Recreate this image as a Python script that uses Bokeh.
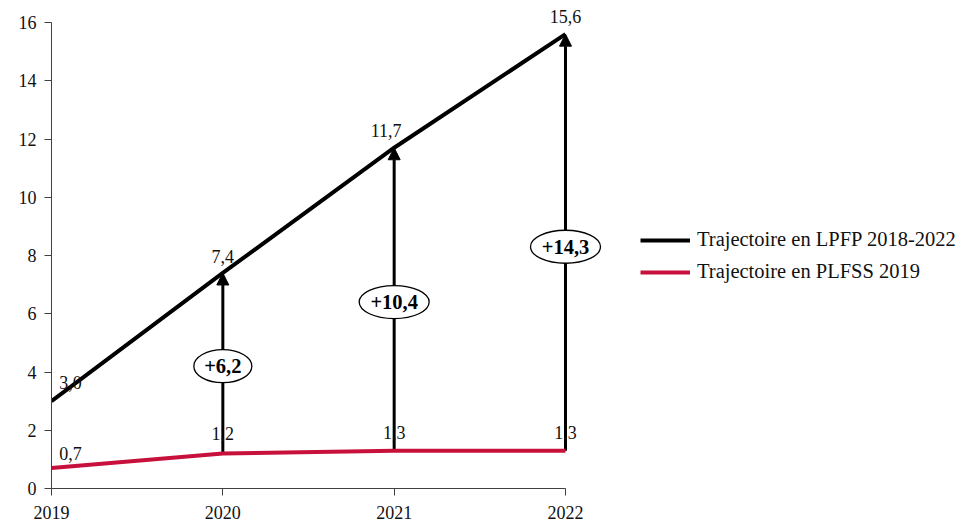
from bokeh.plotting import figure
from bokeh.models import (Range1d, Arrow, NormalHead, Legend, LegendItem,
                          ColumnDataSource, FixedTicker, LabelSet)
from bokeh.embed import file_html
from bokeh.resources import INLINE

# ---- data ----
years = [2019, 2020, 2021, 2022]
lpfp = [3.0, 7.4, 11.7, 15.6]
plfss = [0.7, 1.2, 1.3, 1.3]
lpfp_labels = ["3,0", "7,4", "11,7", "15,6"]
plfss_labels = ["0,7", "1,2", "1,3", "1,3"]
gap_years = [2020, 2021, 2022]
gap_labels = ["+6,2", "+10,4", "+14,3"]
gap_label_y = [4.2, 6.4, 8.3]
y_ticks = [0, 2, 4, 6, 8, 10, 12, 14, 16]

# ---- styles ----
FONT = "Liberation Serif"
BLACK = "#000000"
RED = "#C8103C"
AXIS = "#404040"

px_per_year = (565 - 51) / 3
px_per_unit = (488 - 22) / 16

p = figure(width=966, height=522, output_backend="svg", toolbar_location=None,
           x_range=Range1d(2019, 2019 + (966 - 51) / px_per_year),
           y_range=Range1d(0, 488 / px_per_unit),
           min_border_left=51, min_border_right=0, min_border_top=0,
           min_border_bottom=34)
p.outline_line_color = None
p.xgrid.visible = False
p.ygrid.visible = False
p.background_fill_color = "white"

for ax in (p.xaxis[0], p.yaxis[0]):
    ax.axis_line_color = AXIS
    ax.major_tick_line_color = AXIS
    ax.minor_tick_line_color = None
    ax.major_tick_in = 0
    ax.major_tick_out = 7
    ax.major_label_text_font = FONT
    ax.major_label_text_font_size = "18px"
    ax.major_label_text_color = "#111111"

p.xaxis.bounds = (years[0], years[-1])
p.xaxis.ticker = FixedTicker(ticks=years)
p.xaxis.major_label_overrides = {y: str(y) for y in years}
p.xaxis.major_label_standoff = 10
p.yaxis.bounds = (y_ticks[0], y_ticks[-1])
p.yaxis.ticker = FixedTicker(ticks=y_ticks)
p.yaxis.major_label_standoff = 8

# arrows from PLFSS to LPFP (drawn beneath the ellipses)
arr_src = ColumnDataSource(dict(x=years[1:], ys=plfss[1:], ye=lpfp[1:]))
p.add_layout(Arrow(end=NormalHead(size=12, fill_color=BLACK, line_color=BLACK),
                   x_start="x", y_start="ys", x_end="x", y_end="ye",
                   source=arr_src, line_width=3, line_color=BLACK,
                   level="underlay"))

red = p.line(years, plfss, line_color=RED, line_width=4)
blk = p.line(years, lpfp, line_color=BLACK, line_width=4)

# ellipse labels
gap_src = ColumnDataSource(dict(x=gap_years, y=gap_label_y, t=gap_labels,
                                w=[58, 70, 70]))
p.ellipse(x="x", y="y", width="w", height=33, width_units="screen",
          height_units="screen", fill_color="white", line_color=BLACK,
          line_width=1.3, source=gap_src)
p.add_layout(LabelSet(x="x", y="y", text="t", source=gap_src,
                      text_font=FONT, text_font_size="20.5px",
                      text_font_style="bold", text_align="center",
                      text_baseline="middle", text_color=BLACK))

# value labels
lab_src = ColumnDataSource(dict(
    x=years + years, y=lpfp + plfss, t=lpfp_labels + plfss_labels,
    dx=[19, 0, -8, 0, 19, 0, 0, 0], dy=[19, 16, 17, 18, 15, 20, 18, 18]))
p.add_layout(LabelSet(x="x", y="y", text="t", source=lab_src,
                      x_offset="dx", y_offset="dy",
                      text_font=FONT, text_font_size="18px",
                      text_align="center", text_baseline="middle",
                      text_color="#111111"))

legend = Legend(items=[LegendItem(label="Trajectoire en LPFP 2018-2022", renderers=[blk]),
                       LegendItem(label="Trajectoire en PLFSS 2019", renderers=[red])],
                location=(589, 205), orientation="vertical",
                padding=0, margin=0, spacing=9,
                glyph_width=50, glyph_height=20, label_height=20,
                label_standoff=7, label_text_font=FONT,
                label_text_font_size="20.5px", label_text_color="#111111",
                border_line_color=None, background_fill_alpha=0)
p.add_layout(legend, "center")

open("out.html", "w").write(file_html(p, INLINE))
